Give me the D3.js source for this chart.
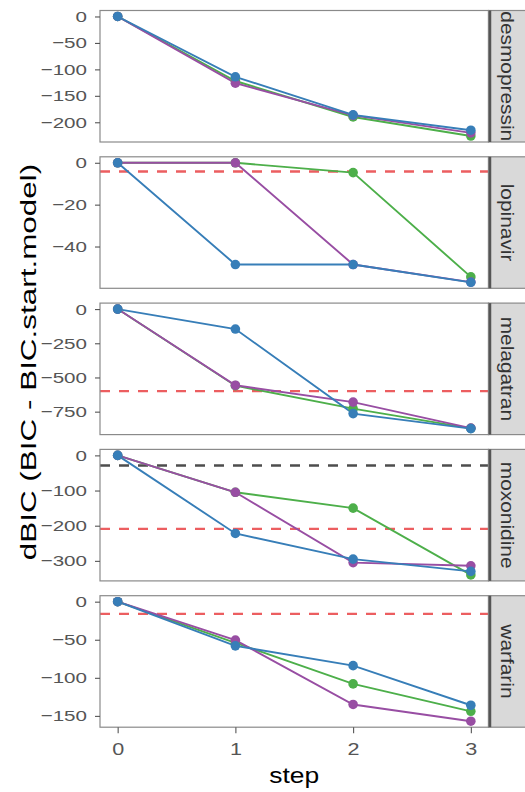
<!DOCTYPE html>
<html>
<head>
<meta charset="utf-8">
<script src="https://cdn.jsdelivr.net/npm/d3@7/dist/d3.min.js"></script>
<style>
  body { margin: 0; background: #fff; }
  text { font-family: "Liberation Sans", Arial, Helvetica, sans-serif; }
</style>
</head>
<body>
<script>
// facets, top to bottom
const drugs = ["desmopressin", "lopinavir", "melagatran", "moxonidine", "warfarin"];
const steps = [0, 1, 2, 3];

// dBIC per drug, one row per drug, one value per step
const greenValues = [
    [0, -122, -190, -226],
    [0, 0, -4.7, -54.5],
    [0, -560, -728, -872],
    [0, -105, -150, -340],
    [0, -54, -108, -144]
];
const purpleValues = [
    [0, -126, -187, -220],
    [0, 0, -48.6, -57],
    [0, -557, -680, -870],
    [0, -105, -305, -314],
    [0, -50.5, -135, -157]
];
const blueValues = [
    [0, -114, -186, -215],
    [0, -48.6, -48.6, -57.1],
    [0, -146, -764, -874],
    [0, -222, -295, -330],
    [0, -58, -84, -136]
];

// reference lines (null = none)
const redLines = [null, -4.2, -600, -209, -16];
const greyLines = [null, null, null, -29, null];

const yTicks = [
    [0, -50, -100, -150, -200],
    [0, -20, -40],
    [0, -250, -500, -750],
    [0, -100, -200, -300],
    [0, -50, -100, -150]
];

// drawn in this order, blue ends up on top
const series = [
    { color: "#4daf4a", values: greenValues },
    { color: "#984ea3", values: purpleValues },
    { color: "#377eb8", values: blueValues }
];

const width = 525, height = 792;
const panelLeft = 100, panelTop = 10.5;
const panelW = 388.5, panelH = 131.5, gap = 14.8;
const stripW = 40;

const svg = d3.select("body").append("svg")
    .attr("width", width)
    .attr("height", height);

// x scale shared by all panels, 5% expansion like ggplot
const xExt = d3.extent(steps);
const xPad = (xExt[1] - xExt[0]) * 0.05;
const x = d3.scaleLinear()
    .domain([xExt[0] - xPad, xExt[1] + xPad])
    .range([panelLeft, panelLeft + panelW]);

drugs.forEach((drug, p) => {
    const y0 = panelTop + p * (panelH + gap);

    // free y scale per panel
    let vals = series.flatMap(s => s.values[p]);
    if (redLines[p] !== null) vals.push(redLines[p]);
    if (greyLines[p] !== null) vals.push(greyLines[p]);
    const ext = d3.extent(vals);
    const pad = (ext[1] - ext[0]) * 0.05;
    const y = d3.scaleLinear()
        .domain([ext[0] - pad, ext[1] + pad])
        .range([y0 + panelH, y0]);

    const line = d3.line()
        .x((d, i) => x(steps[i]))
        .y(d => y(d));

    const clipId = "clip" + p;
    svg.append("clipPath").attr("id", clipId)
        .append("rect")
        .attr("x", panelLeft).attr("y", y0)
        .attr("width", panelW).attr("height", panelH);

    const g = svg.append("g").attr("clip-path", `url(#${clipId})`);

    // dashed reference lines
    [[redLines[p], "#ec5e60"], [greyLines[p], "#4d4d4d"]].forEach(([v, c]) => {
        if (v === null) return;
        g.append("line")
            .attr("x1", panelLeft).attr("x2", panelLeft + panelW)
            .attr("y1", y(v)).attr("y2", y(v))
            .attr("stroke", c)
            .attr("stroke-width", 2.4)
            .attr("stroke-dasharray", "10,9");
    });

    series.forEach(s => {
        g.append("path")
            .attr("d", line(s.values[p]))
            .attr("fill", "none")
            .attr("stroke", s.color)
            .attr("stroke-width", 1.9);
    });
    series.forEach(s => {
        g.selectAll(null)
            .data(s.values[p])
            .enter().append("circle")
            .attr("cx", (d, i) => x(steps[i]))
            .attr("cy", d => y(d))
            .attr("r", 4.8)
            .attr("fill", s.color);
    });

    // panel border
    svg.append("rect")
        .attr("x", panelLeft).attr("y", y0)
        .attr("width", panelW).attr("height", panelH)
        .attr("fill", "none")
        .attr("stroke", "#8a8a8a")
        .attr("stroke-width", 1.2);

    // y axis
    const yAxis = svg.append("g")
        .attr("transform", `translate(${panelLeft},0)`)
        .call(d3.axisLeft(y).tickValues(yTicks[p]).tickSize(5).tickSizeOuter(0));
    yAxis.select(".domain").remove();
    yAxis.selectAll(".tick line").attr("stroke", "#555").attr("stroke-width", 1.1);
    yAxis.selectAll(".tick text")
        .attr("x", null)
        .attr("transform", "translate(-13,0) scale(1.33,1)")
        .attr("fill", "#555")
        .style("font-size", "15.5px");

    // strip on the right
    const sx = panelLeft + panelW;
    const strip = svg.append("g");
    strip.append("clipPath").attr("id", "strip" + p)
        .append("rect")
        .attr("x", sx).attr("y", y0)
        .attr("width", stripW).attr("height", panelH);
    strip.append("rect")
        .attr("x", sx).attr("y", y0)
        .attr("width", stripW).attr("height", panelH)
        .attr("fill", "#d9d9d9")
        .attr("stroke", "#8a8a8a")
        .attr("stroke-width", 1.2);
    strip.append("line")
        .attr("x1", sx + 1.5).attr("x2", sx + 1.5)
        .attr("y1", y0).attr("y2", y0 + panelH)
        .attr("stroke", "#555")
        .attr("stroke-width", 2.5);
    strip.append("g").attr("clip-path", `url(#strip${p})`)
        .append("text")
        .attr("transform", `translate(${sx + 12.5},${y0 + panelH / 2}) rotate(90) scale(1.16,1)`)
        .attr("text-anchor", "middle")
        .attr("fill", "#333")
        .style("font-size", "18px")
        .text(drug);

    // x axis only under the last panel
    if (p === drugs.length - 1) {
        const xAxis = svg.append("g")
            .attr("transform", `translate(0,${y0 + panelH})`)
            .call(d3.axisBottom(x).tickValues(steps).tickFormat(d3.format("d")).tickSize(6).tickSizeOuter(0));
        xAxis.select(".domain").remove();
        xAxis.selectAll(".tick line").attr("stroke", "#555").attr("stroke-width", 1.1);
        xAxis.selectAll(".tick text")
            .attr("y", null).attr("dy", null)
            .attr("transform", "translate(0,28) scale(1.35,1)")
            .attr("fill", "#555")
            .style("font-size", "16px");
    }
});

// axis titles
svg.append("text")
    .attr("transform", `translate(${panelLeft + panelW / 2},783) scale(1.2,1)`)
    .attr("text-anchor", "middle")
    .style("font-size", "22px")
    .text("step");

svg.append("text")
    .attr("transform", "translate(36,362) rotate(-90) scale(1.43,1)")
    .attr("text-anchor", "middle")
    .style("font-size", "22px")
    .text("dBIC (BIC - BIC.start.model)");
</script>
</body>
</html>
